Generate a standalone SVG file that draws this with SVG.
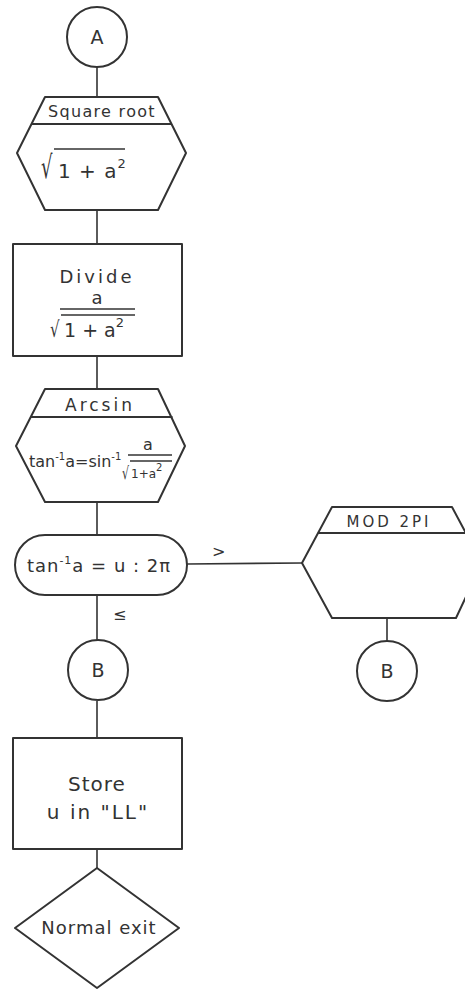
<svg xmlns="http://www.w3.org/2000/svg" width="465" height="989" viewBox="0 0 465 989">
<style>
.s{fill:none;stroke:#333;stroke-width:2;stroke-linejoin:round}
.t{font-family:"DejaVu Sans",sans-serif;fill:#333;text-anchor:middle}
.l{font-family:"DejaVu Sans",sans-serif;fill:#333}
.c{stroke:#333;stroke-width:1.6;fill:none}
</style>
<rect width="465" height="989" fill="#fff"/>
<g id="connectors">
<line class="c" x1="97" y1="67" x2="97" y2="97"/>
<line class="c" x1="97" y1="210" x2="97" y2="244"/>
<line class="c" x1="97" y1="356" x2="97" y2="389"/>
<line class="c" x1="97" y1="502" x2="97" y2="535"/>
<line class="c" x1="97" y1="595" x2="97" y2="640"/>
<line class="c" x1="187" y1="564" x2="302" y2="563"/>
<line class="c" x1="387" y1="618" x2="387" y2="641"/>
<line class="c" x1="97" y1="701" x2="97" y2="738"/>
<line class="c" x1="97" y1="849" x2="97" y2="868"/>
<text class="l" x="212" y="557" font-size="16">&gt;</text>
<text class="l" x="113" y="620" font-size="16">≤</text>
</g>
<g id="nodeA">
<circle class="s" cx="97" cy="37" r="30"/>
<text class="t" x="97" y="44" font-size="19">A</text>
</g>
<g id="sqrt">
<polygon class="s" points="45,97 158,97 186,153 158,210 45,210 17,153"/>
<line class="s" x1="31.5" y1="124" x2="171.5" y2="124"/>
<text class="t" x="102" y="117" font-size="16" letter-spacing="1.3">Square root</text>
<text class="l" font-size="18" transform="translate(41,178) scale(1,1.75)">√</text>
<line class="c" x1="54" y1="149" x2="125" y2="149"/>
<text class="l" x="58" y="178" font-size="20" letter-spacing="1">1 + a<tspan font-size="13" dy="-10">2</tspan></text>
</g>
<g id="divide">
<rect class="s" x="13" y="244" width="169" height="112"/>
<text class="t" x="97" y="283" font-size="18" letter-spacing="3">Divide</text>
<text class="t" x="97" y="304" font-size="18">a</text>
<line class="c" x1="60" y1="309" x2="135" y2="309"/>
<text class="l" font-size="15" transform="translate(50,337) scale(1,1.45)">√</text>
<line class="c" x1="61" y1="315" x2="135" y2="315"/>
<text class="l" x="64" y="337" font-size="19">1 + a<tspan font-size="13" dy="-10">2</tspan></text>
</g>
<g id="arcsin">
<polygon class="s" points="45,389 158,389 185,446 158,502 45,502 16,446"/>
<line class="s" x1="30.5" y1="417" x2="172.5" y2="417"/>
<text class="t" x="100" y="411" font-size="17" letter-spacing="3">Arcsin</text>
<text class="l" x="29" y="467" font-size="16">tan<tspan font-size="10" dy="-7">-1</tspan><tspan dy="7">a=sin</tspan><tspan font-size="10" dy="-7">-1</tspan></text>
<text class="t" x="148" y="450" font-size="16">a</text>
<line class="c" x1="128" y1="455" x2="172" y2="455"/>
<text class="l" font-size="11" transform="translate(122,479) scale(1,1.6)">√</text>
<line class="c" x1="130" y1="461" x2="172" y2="461"/>
<text class="l" x="131" y="478" font-size="12">1+a<tspan font-size="10" dy="-7">2</tspan></text>
</g>
<g id="decision">
<rect class="s" x="15" y="535" width="172" height="60" rx="30" ry="30"/>
<text class="t" x="99" y="572" font-size="18" letter-spacing="1">tan<tspan font-size="11" dy="-8">-1</tspan><tspan dy="8">a = u : 2π</tspan></text>
</g>
<g id="mod2pi">
<polygon class="s" points="332,507 452,507 482,563 456,618 332,618 302,563"/>
<line class="s" x1="318" y1="533" x2="466" y2="533"/>
<text class="t" x="389" y="527" font-size="15" letter-spacing="3">MOD 2PI</text>
</g>
<g id="nodeB1">
<circle class="s" cx="98" cy="670" r="30"/>
<text class="t" x="98" y="677" font-size="19">B</text>
</g>
<g id="nodeB2">
<circle class="s" cx="387" cy="671" r="30"/>
<text class="t" x="387" y="678" font-size="19">B</text>
</g>
<g id="store">
<rect class="s" x="13" y="738" width="169" height="111"/>
<text class="t" x="97" y="791" font-size="20" letter-spacing="1">Store</text>
<text class="t" x="98" y="819" font-size="20" letter-spacing="2">u in "LL"</text>
</g>
<g id="exit">
<polygon class="s" points="97,868 179,928 97,988 15,928"/>
<text class="t" x="99" y="934" font-size="18" letter-spacing="1">Normal exit</text>
</g>
</svg>
